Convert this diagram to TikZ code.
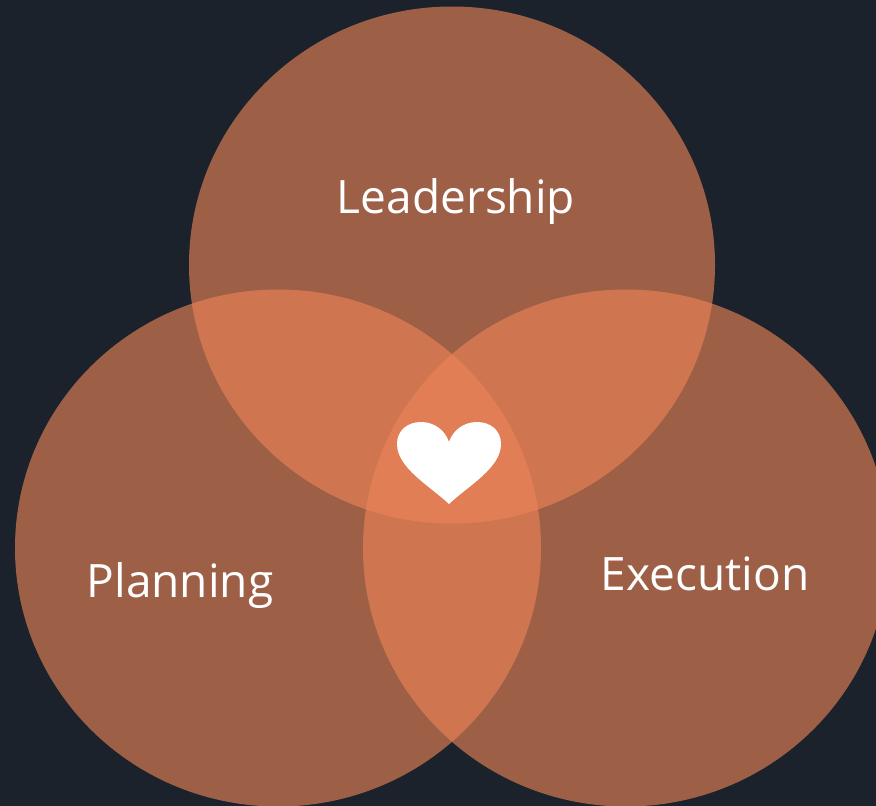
\documentclass[tikz,border=0pt]{standalone}
\usepackage{fontspec}
\usetikzlibrary{shapes.geometric}
\setmainfont{Open Sans}
\definecolor{bgdark}{RGB}{27,34,43}
\definecolor{petal}{RGB}{236,132,88}
\tikzset{
  venn/.style={ellipse,minimum width=526pt,minimum height=517pt,inner sep=0pt,fill=petal,fill opacity=0.63,draw=none},
  lab/.style={text=white,font=\fontsize{46}{55}\selectfont,inner sep=0pt,anchor=base}
}
\begin{document}
\begin{tikzpicture}[x=1pt,y=-1pt]
\useasboundingbox (0,0) rectangle (876,806);
\fill[bgdark] (0,0) rectangle (876,806);
\begin{scope}
\clip (0,0) rectangle (876,806);
\node[venn] (top) at (452,265) {};
\node[venn] (left) at (278,548) {};
\node[venn] (right) at (626,548) {};
\end{scope}
\fill[white] (449,504)
  .. controls (430,486) and (397,468) .. (397,444)
  .. controls (397,430) and (408,422) .. (421,422)
  .. controls (434,422) and (445,430) .. (449,442)
  .. controls (453,430) and (464,422) .. (477,422)
  .. controls (490,422) and (501,430) .. (501,444)
  .. controls (501,468) and (468,486) .. (449,504) -- cycle;
\node[lab] (t1) at (456,213) {Leadership};
\node[lab] (t2) at (180,597) {Planning};
\node[lab] (t3) at (705,590) {Execution};
\end{tikzpicture}
\end{document}
